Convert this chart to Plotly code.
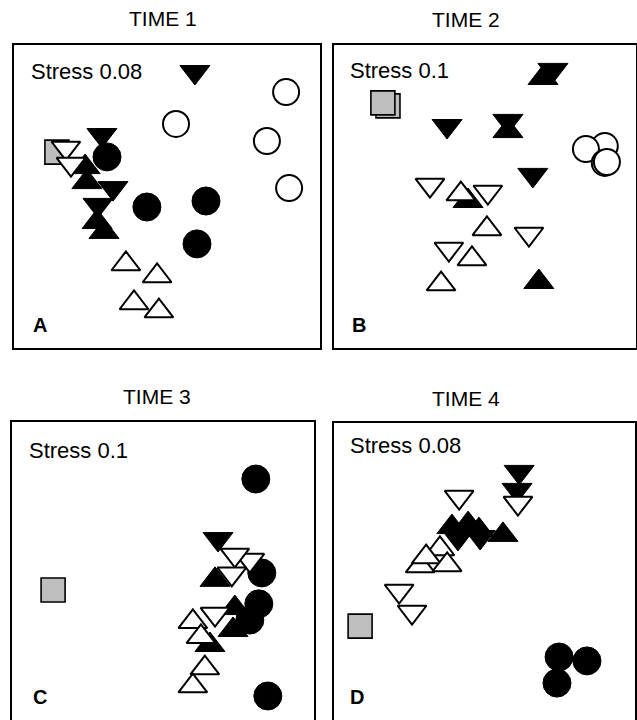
import plotly.graph_objects as go

# ---------------- labels ----------------
panel_titles = ["TIME 1", "TIME 2", "TIME 3", "TIME 4"]
panel_letters = ["A", "B", "C", "D"]
stress_labels = ["Stress 0.08", "Stress 0.1", "Stress 0.1", "Stress 0.08"]

# ---------------- ordination scores (arbitrary NMDS units) ----------------
# TIME 1
t1_square = [(14.3, 65.3)]
t1_filled_circle = [(31.0, 63.7), (44.3, 47.0), (64.0, 49.0), (61.0, 34.7)]
t1_open_circle = [(54.0, 74.7), (90.7, 85.3), (84.3, 69.0), (91.7, 53.3)]
t1_filled_down = [(60.3, 92.0), (29.3, 71.0), (33.0, 53.3), (28.0, 47.7)]
t1_filled_up = [(23.7, 60.3), (24.3, 55.3), (27.7, 42.0), (30.0, 38.7)]
t1_open_down = [(17.3, 66.7), (19.0, 61.3)]
t1_open_up = [(37.3, 28.0), (47.7, 24.0), (40.0, 15.0), (48.3, 12.3)]

# TIME 2
t2_square = [(18.0, 80.7), (16.3, 81.7)]
t2_filled_circle = []
t2_open_circle = [(90.3, 67.3), (84.0, 66.3), (90.3, 61.7), (91.0, 62.0)]
t2_filled_down = [(37.7, 74.0), (58.0, 75.7), (73.0, 92.7), (66.3, 57.7)]
t2_filled_up = [(58.0, 72.3), (69.7, 90.0), (44.7, 49.0), (68.3, 22.0)]
t2_open_down = [(32.0, 54.3), (51.3, 52.0), (65.0, 38.0), (38.3, 33.0)]
t2_open_up = [(42.3, 51.3), (51.0, 39.7), (46.0, 29.7), (35.7, 21.3)]

# TIME 3
t3_square = [(13.7, 44.3)]
t3_filled_circle = [(81.3, 81.3), (83.3, 50.0), (82.3, 39.7), (79.3, 34.3), (85.3, 9.0)]
t3_open_circle = []
t3_filled_down = [(68.7, 61.3)]
t3_filled_up = [(67.7, 47.7), (74.3, 38.3), (73.7, 31.0), (66.0, 26.0)]
t3_open_down = [(79.3, 54.3), (74.3, 56.0), (73.3, 49.7), (67.7, 36.3)]
t3_open_up = [(60.3, 33.7), (63.0, 28.7), (64.3, 18.3), (60.3, 12.3)]

# TIME 4
t4_square = [(8.7, 32.3)]
t4_filled_circle = [(75.0, 22.0), (84.3, 20.7), (74.3, 13.3)]
t4_open_circle = []
t4_filled_down = [(61.7, 83.7), (61.0, 77.7), (41.3, 61.7), (48.7, 62.0)]
t4_filled_up = [(56.3, 62.7), (39.3, 65.3), (44.7, 66.3), (48.3, 64.3)]
t4_open_down = [(41.7, 75.3), (61.3, 73.3), (21.7, 44.0), (26.0, 37.0)]
t4_open_up = [(35.3, 58.0), (28.7, 52.3), (30.7, 55.3), (37.7, 52.7)]

panels_data = [
    [t1_square, t1_filled_circle, t1_filled_down, t1_filled_up, t1_open_circle, t1_open_down, t1_open_up],
    [t2_square, t2_filled_circle, t2_filled_down, t2_filled_up, t2_open_circle, t2_open_down, t2_open_up],
    [t3_square, t3_filled_circle, t3_filled_down, t3_filled_up, t3_open_circle, t3_open_down, t3_open_up],
    [t4_square, t4_filled_circle, t4_filled_down, t4_filled_up, t4_open_circle, t4_open_down, t4_open_up],
]

# ---------------- styles ----------------
group_styles = [
    dict(symbol="square", size=24, color="#bebebe", line=dict(color="black", width=1.6)),
    dict(symbol="circle", size=28, color="black", line=dict(color="black", width=1)),
    dict(symbol="triangle-down", size=26, color="black", line=dict(color="black", width=1)),
    dict(symbol="triangle-up", size=26, color="black", line=dict(color="black", width=1)),
    dict(symbol="circle", size=26, color="white", line=dict(color="black", width=2)),
    dict(symbol="triangle-down", size=25, color="white", line=dict(color="black", width=2)),
    dict(symbol="triangle-up", size=25, color="white", line=dict(color="black", width=2)),
]

W, H = 637, 720
# panel boxes in pixels: left, right, top, bottom
boxes = [(14, 320, 45, 348), (334, 636, 45, 348), (12, 314, 422, 720), (334, 635, 423, 720)]
x_ranges = [[0, 102], [0, 100.7], [0, 100.7], [0, 100.3]]
y_ranges = [[0, 101], [0, 101], [1, 100.3], [1, 100]]

fig = go.Figure()
FONT = "Liberation Sans, Arial, sans-serif"

for i, groups in enumerate(panels_data):
    xa = "x" if i == 0 else f"x{i+1}"
    ya = "y" if i == 0 else f"y{i+1}"
    for pts, st in zip(groups, group_styles):
        if not pts:
            continue
        fig.add_trace(go.Scatter(
            x=[p[0] for p in pts], y=[p[1] for p in pts],
            mode="markers", xaxis=xa, yaxis=ya, showlegend=False,
            hoverinfo="skip", cliponaxis=False,
            marker=dict(symbol=st["symbol"], size=st["size"], color=st["color"],
                        line=st["line"], opacity=1),
        ))
    l, r, t, b = boxes[i]
    bottom_open = i >= 2
    xkey = "xaxis" if i == 0 else f"xaxis{i+1}"
    ykey = "yaxis" if i == 0 else f"yaxis{i+1}"
    fig.update_layout(**{
        xkey: dict(domain=[l / W, r / W], range=x_ranges[i], anchor=ya,
                   showgrid=False, zeroline=False, showticklabels=False, ticks="",
                   showline=True, linecolor="black", linewidth=2,
                   mirror=(not bottom_open), side=("top" if bottom_open else "bottom"),
                   fixedrange=True),
        ykey: dict(domain=[1 - b / H, 1 - t / H], range=y_ranges[i], anchor=xa,
                   showgrid=False, zeroline=False, showticklabels=False, ticks="",
                   showline=True, linecolor="black", linewidth=2, mirror=True,
                   fixedrange=True),
    })

annotations = []
title_pos = [(163, 18), (466, 19), (157, 396), (466, 398)]
stress_pos = [(0.050, 0.911), (0.048, 0.917), (0.050, 0.906), (0.045, 0.923)]
letter_pos = [(0.057, 0.076), (0.054, 0.076), (0.064, 0.077), (0.045, 0.077)]
for i in range(4):
    xd = "x domain" if i == 0 else f"x{i+1} domain"
    yd = "y domain" if i == 0 else f"y{i+1} domain"
    annotations.append(dict(text=panel_titles[i], xref="paper", yref="paper",
                            x=title_pos[i][0] / W, y=1 - title_pos[i][1] / H,
                            xanchor="center", yanchor="middle", showarrow=False,
                            font=dict(family=FONT, size=21, color="black")))
    annotations.append(dict(text=stress_labels[i], xref=xd, yref=yd,
                            x=stress_pos[i][0], y=stress_pos[i][1],
                            xanchor="left", yanchor="middle", showarrow=False,
                            font=dict(family=FONT, size=22, color="black")))
    annotations.append(dict(text="<b>" + panel_letters[i] + "</b>", xref=xd, yref=yd,
                            x=letter_pos[i][0], y=letter_pos[i][1],
                            xanchor="left", yanchor="middle", showarrow=False,
                            font=dict(family=FONT, size=20, color="black")))

fig.update_layout(
    width=W, height=H,
    margin=dict(l=0, r=0, t=0, b=0),
    paper_bgcolor="white", plot_bgcolor="white",
    annotations=annotations,
    showlegend=False,
)

fig.write_html(
    "out.html",
    config={"displayModeBar": False, "staticPlot": True},
    post_script="document.body.style.margin='0px';document.body.style.overflow='hidden';",
)
